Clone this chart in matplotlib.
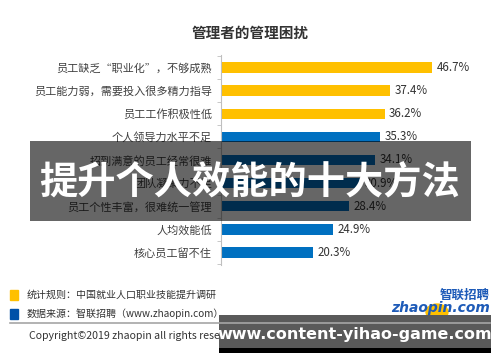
import matplotlib
matplotlib.use("Agg")
import matplotlib.pyplot as plt
from matplotlib.patches import Rectangle, Circle
from matplotlib.lines import Line2D

plt.rcParams['font.family'] = ['Noto Sans CJK SC', 'DejaVu Sans']

# data
categories = [
    "员工缺乏“职业化”，不够成熟",
    "员工能力弱，需要投入很多精力指导",
    "员工工作积极性低",
    "个人领导力水平不足",
    "招到满意的员工经常很难",
    "团队凝聚力不足",
    "员工个性丰富，很难统一管理",
    "人均效能低",
    "核心员工留不住",
]
values = [46.7, 37.4, 36.2, 35.3, 34.1, 30.9, 28.4, 24.9, 20.3]
groups = ["self", "self", "self", "boss", "boss", "boss", "boss", "boss", "boss"]
group_colors = {"self": "#FFC000", "boss": "#0070C0"}

title = "管理者的管理困扰"
banner = "提升个人效能的十大方法"
note_rule = "统计规则：中国就业人口职业技能提升调研"
note_source = "数据来源：智联招聘（www.zhaopin.com）"
copyright_text = "Copyright©2019 zhaopin all rights reserved"
watermark = "www.content-yihao-game.com"

W, H = 500, 362
fig = plt.figure(figsize=(W / 100, H / 100), dpi=100)

def fx(px):
    return px / W

def fy(py):
    return 1 - py / H

ax = fig.add_axes([fx(221), fy(265), fx(492 - 221), (265 - 55) / H])
ypos = list(range(len(categories)))
ax.barh(ypos, values, height=0.46,
        color=[group_colors[g] for g in groups])
for y, v in zip(ypos, values):
    ax.text(v + 1.0, y, f"{v:.1f}%", va="center", ha="left",
            fontsize=8.3, color="#333333")

ax.set_xlim(0, 60)
ax.set_ylim(len(categories) - 0.45, -0.55)
ax.set_yticks(ypos, categories)
ax.set_yticks([i - 0.5 for i in range(len(categories) + 1)], minor=True)
ax.tick_params(axis="y", which="major", length=0, pad=6.5,
               labelsize=8, labelcolor="#404040")
ax.tick_params(axis="y", which="minor", length=3, color="#BFBFBF")
ax.set_xticks([])
for s in ["top", "right", "bottom"]:
    ax.spines[s].set_visible(False)
ax.spines["left"].set_color("#BFBFBF")

fig.text(0.5, fy(33), title, ha="center", va="center",
         fontsize=10.5, fontweight="bold", color="#333333")

# footer
fig.add_artist(Rectangle((fx(10), fy(300)), fx(8), 10 / H,
                         color="#FFC000", zorder=3))
fig.add_artist(Rectangle((fx(10), fy(319)), fx(8), 10 / H,
                         color="#0050A8", zorder=3))
fig.text(fx(27), fy(295), note_rule, fontsize=7.2, va="center", color="#333333")
fig.text(fx(27), fy(314), note_source, fontsize=7.2, va="center", color="#333333")
fig.text(fx(29), fy(336), copyright_text, fontsize=7.6, va="center",
         color="#333333")

# logo
fig.add_artist(Circle((fx(437), fy(312)), 11 / W, color="#FFC000", zorder=3))
fig.text(fx(490), fy(295), "智联招聘", ha="right", va="center", fontsize=9,
         fontweight="bold", style="italic", color="#1E5BB8", zorder=4)
fig.text(fx(490), fy(308), "zhaopin.com", ha="right", va="center",
         fontsize=10, fontweight="bold", style="italic", color="#1E5BB8",
         family="DejaVu Sans", zorder=4)

# banner overlay
fig.add_artist(Rectangle((fx(30), fy(221)), fx(441), 80 / H,
                         facecolor="black", alpha=0.6, zorder=5))
fig.text(fx(250), fy(183), banner, ha="center", va="center", fontsize=27.5,
         fontweight="bold", color="white", zorder=6)

# watermark box
fig.add_artist(Rectangle((fx(219), fy(348)), fx(272), 33 / H,
                         facecolor="#5A5A5A", zorder=5))
fig.add_artist(Rectangle((fx(219), fy(353)), fx(272), 5 / H,
                         facecolor="black", zorder=5))
fig.add_artist(Line2D([fx(10), fx(490)], [fy(323), fy(323)],
                      color="#A6A6A6", lw=1.2, zorder=6))
fig.text(fx(355), fy(335), watermark, ha="center", va="center", fontsize=11.5,
         fontweight="bold", color="white", family="DejaVu Sans", zorder=7)

fig.savefig("out.png", dpi=100)
